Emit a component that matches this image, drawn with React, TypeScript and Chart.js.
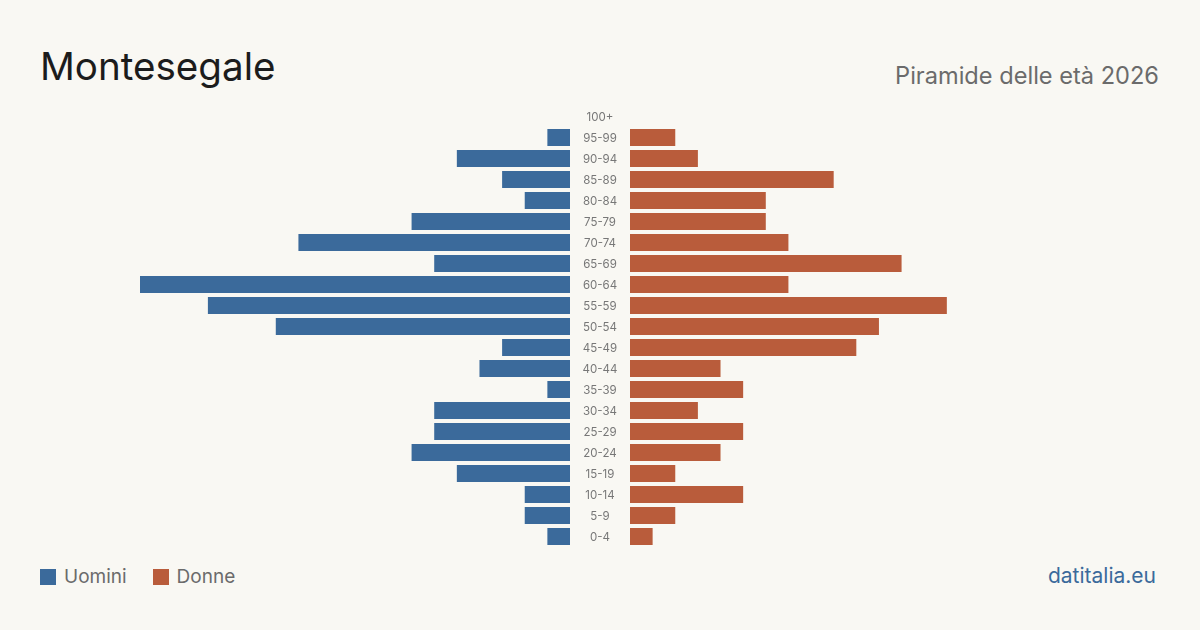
import React, { useEffect, useRef } from "react";
import { Chart, registerables } from "chart.js";

Chart.register(...registerables);

const ageGroups = ["100+", "95-99", "90-94", "85-89", "80-84", "75-79", "70-74", "65-69", "60-64", "55-59", "50-54", "45-49", "40-44", "35-39", "30-34", "25-29", "20-24", "15-19", "10-14", "5-9", "0-4"];
const men = [0, 1, 5, 3, 2, 7, 12, 6, 19, 16, 13, 3, 4, 1, 6, 6, 7, 5, 2, 2, 1];
const women = [0, 2, 3, 9, 6, 6, 7, 12, 7, 14, 11, 10, 4, 5, 3, 5, 4, 2, 5, 2, 1];

const BLUE = "#3b6a9b";
const ORANGE = "#b95c3b";
const BG = "#f9f8f3";
const FONT = "Inter, 'Noto Sans', sans-serif";

const scaleMax = Math.max(...men, ...women);

const centerLabels = {
  id: "centerLabels",
  afterDraw(chart: any) {
    const { ctx, chartArea, scales } = chart;
    const y = scales.y;
    ctx.save();
    ctx.font = `11.5px ${FONT}`;
    ctx.fillStyle = "#777";
    ctx.textAlign = "center";
    ctx.textBaseline = "middle";
    chart.data.labels.forEach((lab: string, i: number) => {
      ctx.fillText(lab, chartArea.right + 30, y.getPixelForValue(i) + 1);
    });
    ctx.restore();
  },
};

export default function App() {
  const leftRef = useRef<HTMLCanvasElement>(null);
  const rightRef = useRef<HTMLCanvasElement>(null);

  useEffect(() => {
    document.body.style.margin = "0";
    document.body.style.background = BG;
    const common: any = {
      responsive: false,
      animation: false,
      indexAxis: "y",
      maintainAspectRatio: false,
      plugins: { legend: { display: false }, tooltip: { enabled: false } },
    };
    const left = new Chart(leftRef.current!, {
      type: "bar",
      data: {
        labels: ageGroups,
        datasets: [{ data: men, backgroundColor: BLUE, categoryPercentage: 1, barPercentage: 0.81 }],
      },
      options: {
        ...common,
        layout: { padding: { left: 0, right: 60, top: 0, bottom: 0 } },
        scales: {
          x: { display: false, reverse: true, min: 0, max: scaleMax },
          y: { display: false },
        },
      },
      plugins: [centerLabels],
    } as any);
    const right = new Chart(rightRef.current!, {
      type: "bar",
      data: {
        labels: ageGroups,
        datasets: [{ data: women, backgroundColor: ORANGE, categoryPercentage: 1, barPercentage: 0.81 }],
      },
      options: {
        ...common,
        layout: { padding: 0 },
        scales: {
          x: { display: false, min: 0, max: scaleMax },
          y: { display: false },
        },
      },
    } as any);
    return () => {
      left.destroy();
      right.destroy();
    };
  }, []);

  return (
    <div style={{ position: "absolute", left: 0, top: 0, width: 1200, height: 630, background: BG, fontFamily: FONT, overflow: "hidden" }}>
      <div style={{ position: "absolute", left: 40, top: 41, fontSize: 38.6, color: "#1c1c1c", lineHeight: "50px" }}>Montesegale</div>
      <div style={{ position: "absolute", right: 41, top: 61, fontSize: 23.6, color: "#6b6b6b", lineHeight: "30px" }}>Piramide delle età 2026</div>
      <canvas ref={leftRef} width={490} height={441} style={{ position: "absolute", left: 140, top: 106, width: 490, height: 441 }} />
      <canvas ref={rightRef} width={430} height={441} style={{ position: "absolute", left: 630, top: 106, width: 430, height: 441 }} />
      <div style={{ position: "absolute", left: 40, top: 567, display: "flex", alignItems: "center", fontSize: 19, color: "#6b6b6b", lineHeight: "20px" }}>
        <span style={{ width: 16, height: 16, background: BLUE, display: "inline-block", marginRight: 8 }} />
        <span>Uomini</span>
        <span style={{ width: 16, height: 16, background: ORANGE, display: "inline-block", marginLeft: 26, marginRight: 8 }} />
        <span>Donne</span>
      </div>
      <div style={{ position: "absolute", right: 44, top: 564, fontSize: 21, color: "#3b6a9b", lineHeight: "24px" }}>datitalia.eu</div>
    </div>
  );
}
